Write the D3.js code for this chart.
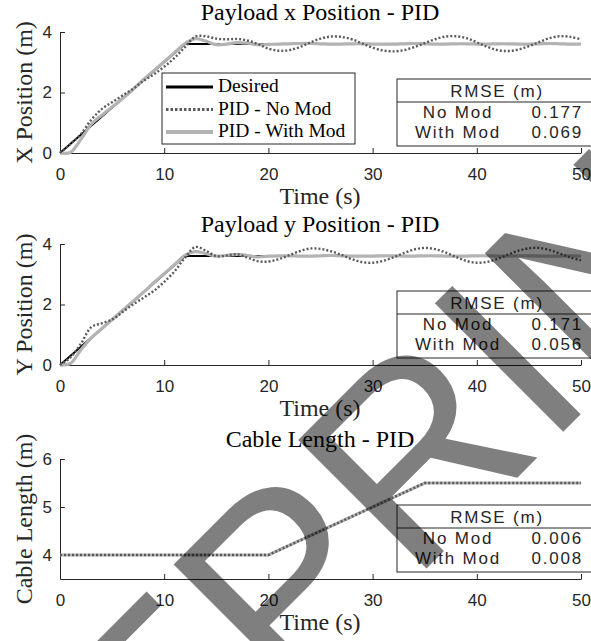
<!DOCTYPE html>
<html>
<head>
<meta charset="utf-8">
<script src="https://cdn.jsdelivr.net/npm/d3@7"></script>
<style>
body { margin: 0; background: #fff; }
svg { display: block; }
</style>
</head>
<body>
<script>
var width = 591,
    height = 641;

// sample times (s) for the simulated responses
var time = [0,1,2,3,4,5,6,7,8,9,10,11,12,13,14,15,16,17,18,19,20,21,22,23,24,25,
            26,27,28,29,30,31,32,33,34,35,36,37,38,39,40,41,42,43,44,45,46,47,48,49,50];

var desiredT = [0, 12, 50];
var desiredPos = [0, 3.6, 3.6];

var xNoMod = [0,0.3,0.62,1.1,1.45,1.68,1.9,2.12,2.38,2.6,2.85,3.15,3.5,3.85,3.86,3.78,3.76,3.77,3.72,3.6,
              3.45,3.38,3.4,3.5,3.65,3.78,3.85,3.84,3.76,3.62,3.48,3.39,3.36,3.4,3.5,3.63,3.76,3.85,3.86,3.8,
              3.66,3.51,3.4,3.37,3.42,3.53,3.67,3.8,3.86,3.84,3.76];
var xWithMod = [0,0.02,0.45,0.95,1.25,1.52,1.8,2.1,2.42,2.72,3.02,3.32,3.62,3.78,3.7,3.58,3.6,3.65,3.63,3.58,
                3.59,3.6,3.61,3.62,3.62,3.61,3.6,3.6,3.61,3.61,3.6,3.6,3.6,3.61,3.62,3.61,3.6,3.6,3.61,3.61,
                3.6,3.6,3.61,3.61,3.6,3.6,3.61,3.62,3.61,3.6,3.6];

var yNoMod = [0,0.25,0.7,1.25,1.38,1.5,1.75,2.0,2.22,2.45,2.75,3.1,3.55,3.9,3.78,3.6,3.62,3.66,3.55,3.43,
              3.42,3.5,3.63,3.76,3.85,3.84,3.76,3.64,3.5,3.4,3.38,3.44,3.56,3.7,3.82,3.87,3.83,3.72,3.57,3.44,
              3.38,3.41,3.51,3.65,3.78,3.86,3.87,3.8,3.68,3.55,3.46];
var yWithMod = [0,0.05,0.5,0.9,1.2,1.5,1.8,2.1,2.4,2.72,3.02,3.32,3.62,3.75,3.68,3.6,3.62,3.66,3.62,3.57,
                3.6,3.61,3.61,3.6,3.6,3.61,3.62,3.61,3.6,3.6,3.6,3.61,3.61,3.6,3.6,3.61,3.61,3.6,3.6,3.6,
                3.61,3.61,3.6,3.6,3.61,3.61,3.6,3.6,3.6,3.61,3.6];

var cableT = [0, 20, 35, 50];
var cableDesired = [4, 4, 5.5, 5.5];
var cableNoMod = [4, 4, 5.5, 5.5];
var cableWithMod = [4, 4, 5.5, 5.5];

var timeTicks = [0, 10, 20, 30, 40, 50];
var posTicks = [0, 2, 4];
var cableTicks = [4, 5, 6];

var rowNames = ["No Mod", "With Mod"];
var rmseX = ["0.177", "0.069"];
var rmseY = ["0.171", "0.056"];
var rmseCable = ["0.006", "0.008"];

var legendNames = ["Desired", "PID - No Mod", "PID - With Mod"];

function zip(t, v) { return t.map(function(d, i) { return [d, v[i]]; }); }

var panels = [
  { title: "Payload x Position - PID", ylabel: "X Position (m)", top: 32, bottom: 153,
    domain: [0, 4], ticks: posTicks, legend: true, rmse: rmseX, smooth: true,
    desired: zip(desiredT, desiredPos), noMod: zip(time, xNoMod), withMod: zip(time, xWithMod) },
  { title: "Payload y Position - PID", ylabel: "Y Position (m)", top: 244, bottom: 365,
    domain: [0, 4], ticks: posTicks, legend: false, rmse: rmseY, smooth: true,
    desired: zip(desiredT, desiredPos), noMod: zip(time, yNoMod), withMod: zip(time, yWithMod) },
  { title: "Cable Length - PID", ylabel: "Cable Length (m)", top: 459, bottom: 579,
    domain: [3.5, 6], ticks: cableTicks, legend: false, rmse: rmseCable, smooth: false,
    desired: zip(cableT, cableDesired), noMod: zip(cableT, cableNoMod), withMod: zip(cableT, cableWithMod) }
];

var svg = d3.select("body").append("svg")
    .attr("width", width)
    .attr("height", height);

var x = d3.scaleLinear().domain([0, 50]).range([60, 581]);

var serif = "'Liberation Serif', 'DejaVu Serif', serif",
    sans = "'Liberation Sans', Arial, sans-serif",
    axisColor = "#262626";

panels.forEach(function(p) {
  var y = d3.scaleLinear().domain(p.domain).range([p.bottom, p.top]);
  var g = svg.append("g");

  var line = d3.line()
      .x(function(d) { return x(d[0]); })
      .y(function(d) { return y(d[1]); });
  var smoothLine = d3.line()
      .x(function(d) { return x(d[0]); })
      .y(function(d) { return y(d[1]); })
      .curve(p.smooth ? d3.curveCatmullRom : d3.curveLinear);

  // axes
  var xAxis = g.append("g")
      .attr("transform", "translate(0," + p.bottom + ")")
      .call(d3.axisBottom(x).tickValues(timeTicks).tickFormat(d3.format("d"))
        .tickSizeInner(-5).tickSizeOuter(0).tickPadding(15));
  var yAxis = g.append("g")
      .attr("transform", "translate(60,0)")
      .call(d3.axisLeft(y).tickValues(p.ticks).tickFormat(d3.format("d"))
        .tickSizeInner(-5).tickSizeOuter(0).tickPadding(8));
  [xAxis, yAxis].forEach(function(a) {
    a.select(".domain").attr("stroke", axisColor);
    a.selectAll(".tick line").attr("stroke", axisColor);
    a.selectAll(".tick text")
      .style("font-family", sans)
      .style("font-size", "17px")
      .attr("fill", axisColor);
  });

  // data lines
  g.append("path")
      .datum(p.desired)
      .attr("d", line)
      .attr("fill", "none")
      .attr("stroke", "#000")
      .attr("stroke-width", 2);
  g.append("path")
      .datum(p.withMod)
      .attr("d", smoothLine)
      .attr("fill", "none")
      .attr("stroke", "#b3b3b3")
      .attr("stroke-width", 3.2);
  g.append("path")
      .datum(p.noMod)
      .attr("d", smoothLine)
      .attr("fill", "none")
      .attr("stroke", "#5a5a5a")
      .attr("stroke-width", 2.4)
      .attr("stroke-dasharray", "2,2");

  // titles
  g.append("text")
      .attr("x", 320)
      .attr("y", p.top - 12)
      .attr("text-anchor", "middle")
      .style("font-family", serif)
      .style("font-size", "24px")
      .text(p.title);
  g.append("text")
      .attr("x", 320)
      .attr("y", p.bottom + 51)
      .attr("text-anchor", "middle")
      .style("font-family", serif)
      .style("font-size", "24px")
      .attr("fill", axisColor)
      .text("Time (s)");
  g.append("text")
      .attr("transform", "translate(32," + ((p.top + p.bottom) / 2) + ") rotate(-90)")
      .attr("text-anchor", "middle")
      .style("font-family", serif)
      .style("font-size", "24px")
      .attr("fill", axisColor)
      .text(p.ylabel);

  // RMSE table
  var tt = p.bottom - 74;
  var table = g.append("g").attr("transform", "translate(397," + tt + ")");
  table.append("rect")
      .attr("width", 210)
      .attr("height", 67)
      .attr("fill", "#fff")
      .attr("stroke", axisColor);
  table.append("line")
      .attr("x1", 0).attr("x2", 210)
      .attr("y1", 23).attr("y2", 23)
      .attr("stroke", axisColor);
  table.append("text")
      .attr("x", 100)
      .attr("y", 18)
      .attr("text-anchor", "middle")
      .style("font-family", sans)
      .style("font-size", "17px")
      .style("letter-spacing", "1.8px")
      .attr("fill", axisColor)
      .text("RMSE (m)");
  rowNames.forEach(function(name, i) {
    table.append("text")
        .attr("x", 61)
        .attr("y", 39 + 20 * i)
        .attr("text-anchor", "middle")
        .style("font-family", sans)
        .style("font-size", "17px")
        .style("letter-spacing", "1.8px")
        .attr("fill", axisColor)
        .text(name);
    table.append("text")
        .attr("x", 186)
        .attr("y", 39 + 20 * i)
        .attr("text-anchor", "end")
        .style("font-family", sans)
        .style("font-size", "17px")
        .style("letter-spacing", "1.8px")
        .attr("fill", axisColor)
        .text(p.rmse[i]);
  });

  // legend
  if (p.legend) {
    var lg = g.append("g").attr("transform", "translate(162,73)");
    lg.append("rect")
        .attr("width", 193)
        .attr("height", 71)
        .attr("fill", "#fff")
        .attr("stroke", axisColor);
    var styles = [
      { stroke: "#000", w: 3, dash: null },
      { stroke: "#5a5a5a", w: 3, dash: "2.5,2" },
      { stroke: "#b3b3b3", w: 4, dash: null }
    ];
    legendNames.forEach(function(name, i) {
      lg.append("line")
          .attr("x1", 4).attr("x2", 51)
          .attr("y1", 14 + 22.5 * i).attr("y2", 14 + 22.5 * i)
          .attr("stroke", styles[i].stroke)
          .attr("stroke-width", styles[i].w)
          .attr("stroke-dasharray", styles[i].dash);
      lg.append("text")
          .attr("x", 56)
          .attr("y", 19 + 22.5 * i)
          .style("font-family", serif)
          .style("font-size", "19.5px")
          .text(name);
    });
  }
});

// watermark: place so the stem of the "I" sits where it does in the picture
var wmSize = 264;
var wm = svg.append("text")
    .style("font-family", sans)
    .style("font-size", wmSize + "px")
    .attr("fill", "#000")
    .attr("fill-opacity", 0.5)
    .text("PREPRINT");
var iStem = wm.node().getStartPositionOfChar(5).x + 0.139 * wmSize;
var c = Math.SQRT1_2;
wm.attr("transform", "translate(" + (572 - iStem * c) + "," + (423 + iStem * c) + ") rotate(-45)");
</script>
</body>
</html>
